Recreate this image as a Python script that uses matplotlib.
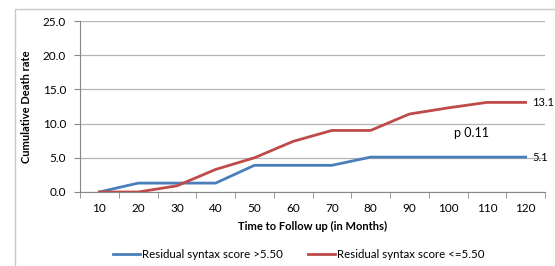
import matplotlib
matplotlib.use("Agg")
import matplotlib.pyplot as plt
from matplotlib.patches import Rectangle

months = [10, 20, 30, 40, 50, 60, 70, 80, 90, 100, 110, 120]
high_score = [0, 1.3, 1.3, 1.3, 3.9, 3.9, 3.9, 5.1, 5.1, 5.1, 5.1, 5.1]
low_score = [0, 0, 0.9, 3.3, 5.0, 7.4, 9.0, 9.0, 11.4, 12.3, 13.1, 13.1]
yticks = [0, 5, 10, 15, 20, 25]
series_names = ["Residual syntax score >5.50", "Residual syntax score <=5.50"]

plt.rcParams["font.family"] = ["Lato", "DejaVu Sans"]

W, H = 555, 266
fig = plt.figure(figsize=(W / 100, H / 100), dpi=100)
fig.patches.append(Rectangle((15 / W, -0.1), 1.2, (H - 9) / H + 0.1,
                             transform=fig.transFigure, fill=False,
                             edgecolor="#c8c8c8", linewidth=1.0))

ax = fig.add_axes([80 / W, (H - 192) / H, (545 - 80) / W, (192 - 21) / H])
x = list(range(len(months)))
blue, red = "#4a7ebb", "#be4b48"
l1, = ax.plot(x, high_score, color=blue, lw=2.0, solid_joinstyle="round")
l2, = ax.plot(x, low_score, color=red, lw=2.0, solid_joinstyle="round")

ax.set_xlim(-0.5, len(months) - 0.5)
ax.set_ylim(0, 25)
ax.set_yticks(yticks)
ax.set_yticklabels([f"{v:.1f}" for v in yticks], fontsize=8.5)
ax.set_xticks(x)
ax.set_xticklabels([str(m) for m in months], fontsize=8.5)
ax.set_xticks([i + 0.5 for i in range(-1, len(months))], minor=True)
ax.tick_params(axis="x", which="major", length=0, pad=8)
ax.tick_params(axis="x", which="minor", length=4, color="#868686", direction="out")
ax.tick_params(axis="y", length=4, color="#868686", pad=6)
ax.grid(axis="y", color="#b4b4b4", lw=0.9)
ax.set_axisbelow(True)
for s in ["top", "right"]:
    ax.spines[s].set_visible(False)
for s in ["left", "bottom"]:
    ax.spines[s].set_color("#868686")

ax.set_xlabel("Time to Follow up (in Months)", fontsize=8, fontweight="bold", labelpad=5)
ax.set_ylabel("Cumulative Death rate", fontsize=8, fontweight="bold", labelpad=8)

ax.annotate(f"{low_score[-1]:.1f}", (x[-1], low_score[-1]), xytext=(4.5, 0),
            textcoords="offset points", va="center", fontsize=8, annotation_clip=False)
ax.annotate(f"{high_score[-1]:.1f}", (x[-1], high_score[-1]), xytext=(4.5, 0),
            textcoords="offset points", va="center", fontsize=8, annotation_clip=False)
ax.text(9.6, 8.6, "p 0.11", fontsize=9, ha="center", va="center")

fig.legend([l1, l2], series_names, loc="center left", bbox_to_anchor=(113 / W, (H - 255) / H),
           ncol=2, frameon=False, fontsize=8.3, handlelength=2.3, handletextpad=0.2,
           columnspacing=2.2, borderpad=0, borderaxespad=0)

fig.savefig("out.png", dpi=100)
